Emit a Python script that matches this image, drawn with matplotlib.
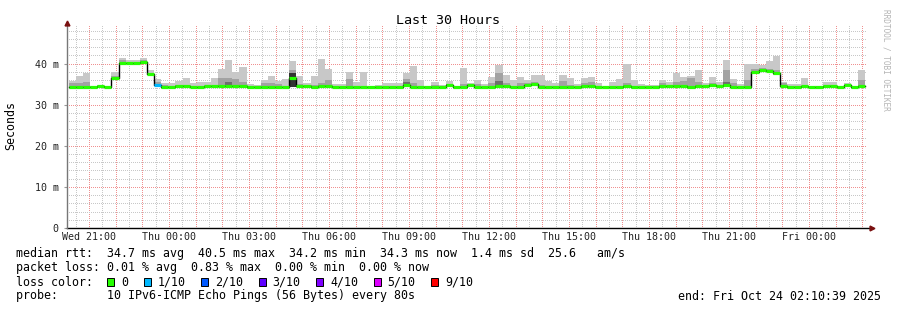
import numpy as np
import matplotlib
matplotlib.use('Agg')
import matplotlib.pyplot as plt
from matplotlib.patches import Rectangle

# --- data (ms), one value per 16 min bin ---
median = [34.24, 34.24, 34.24, 34.24, 34.5, 34.24, 36.6, 40.2, 40.2, 40.2,
          40.5, 37.5, 34.8, 34.24, 34.24, 34.56, 34.56, 34.4, 34.4, 34.48,
          34.48, 34.64, 34.56, 34.48, 34.48, 34.32, 34.32, 34.32, 34.24, 34.24,
          34.24, 36.4, 34.64, 34.64, 34.4, 34.48, 34.56, 34.32, 34.32, 34.4,
          34.4, 34.32, 34.32, 34.32, 34.32, 34.32, 34.32, 34.8, 34.32, 34.24,
          34.24, 34.4, 34.32, 34.8, 34.32, 34.4, 34.8, 34.4, 34.32, 34.32,
          34.64, 34.56, 34.32, 34.4, 34.8, 35.04, 34.32, 34.32, 34.32, 34.32,
          34.32, 34.32, 34.48, 34.48, 34.32, 34.32, 34.32, 34.4, 34.56, 34.32,
          34.32, 34.4, 34.4, 34.48, 34.48, 34.48, 34.48, 34.32, 34.48, 34.48,
          34.72, 34.48, 34.72, 34.32, 34.32, 34.32, 38.0, 38.4, 38.2, 37.6,
          34.56, 34.32, 34.32, 34.48, 34.32, 34.32, 34.48, 34.48, 34.32, 34.8,
          34.4, 34.48]
smoke_max = [35.8, 37.0, 37.8, 34.6, 34.9, 34.4, 38.0, 41.4, 40.8, 40.8,
             41.4, 38.4, 36.2, 35.4, 35.4, 35.8, 36.6, 35.2, 35.6, 35.6,
             36.6, 38.8, 41.0, 38.0, 39.2, 35.1, 34.9, 36.0, 37.0, 35.8,
             36.2, 40.6, 37.0, 35.4, 37.0, 41.2, 38.8, 35.0, 35.0, 38.0,
             35.6, 37.9, 34.6, 34.9, 35.4, 35.4, 35.4, 37.8, 39.4, 36.0,
             34.5, 35.6, 34.9, 35.8, 34.6, 39.0, 35.4, 36.0, 35.0, 36.8,
             39.6, 37.2, 36.0, 36.8, 36.0, 37.2, 37.2, 35.8, 35.4, 37.2,
             36.6, 35.0, 36.4, 36.8, 35.2, 34.4, 35.6, 36.2, 39.8, 36.0,
             35.0, 34.8, 34.8, 36.0, 35.6, 37.8, 36.8, 37.0, 38.4, 35.4,
             36.8, 35.6, 40.8, 36.2, 35.0, 40.0, 40.0, 39.6, 40.6, 41.8,
             35.6, 35.0, 35.0, 36.4, 34.6, 34.6, 35.6, 35.6, 34.6, 35.4,
             34.6, 38.4]
smoke_mid = [35.2, 35.4, 35.6, 0, 0, 0, 37.0, 40.8, 0, 0,
             41.0, 37.8, 35.6, 34.8, 34.6, 34.8, 34.8, 0, 0, 0,
             0, 36.6, 36.6, 36.2, 35.6, 0, 0, 35.4, 35.4, 35.0,
             0, 38.4, 35.0, 0, 34.8, 35.2, 36.0, 0, 0, 36.2,
             0, 0, 0, 0, 0, 0, 0, 36.2, 35.2, 0,
             0, 34.8, 0, 0, 0, 35.0, 35.1, 35.0, 0, 35.2,
             37.8, 35.2, 0, 35.2, 35.2, 35.5, 34.8, 0, 0, 35.8,
             34.8, 0, 35.4, 35.6, 0, 0, 0, 0, 35.4, 0,
             0, 0, 0, 35.2, 0, 35.6, 35.8, 36.4, 35.6, 0,
             35.2, 0, 38.4, 35.2, 0, 36.0, 38.8, 38.9, 38.8, 38.4,
             35.2, 0, 0, 0, 0, 0, 0, 34.8, 0, 34.8,
             0, 36.0]
dense_top = {31: 37.6, 47: 35.6, 53: 35.1, 22: 35.6, 60: 35.8, 92: 35.6}
loss = [0] * 112
loss[12] = 1

loss_labels = ['0', '1/10', '2/10', '3/10', '4/10', '5/10', '9/10']
loss_colors = ['#26ff00', '#00b8ff', '#0059ff', '#5e00ff', '#7e00ff', '#dd00ff', '#ff0000']

tick_names = ['Wed 21:00', 'Thu 00:00', 'Thu 03:00', 'Thu 06:00', 'Thu 09:00',
              'Thu 12:00', 'Thu 15:00', 'Thu 18:00', 'Thu 21:00', 'Fri 00:00']
first_tick = 0.8225   # hours after start (Wed 20:10:39) of Wed 21:00
bin_start = 0.065
bin_w = 16 / 60.0

mono = 'DejaVu Sans Mono'
plt.rcParams['font.family'] = mono

W, H = 897, 310
fig = plt.figure(figsize=(W / 100, H / 100), dpi=100)
fig.patch.set_facecolor('white')
ax = fig.add_axes([67 / W, (H - 228) / H, 800 / W, (228 - 25) / H])
ax.set_xlim(0, 30)
ax.set_ylim(0, 49.4)

# grid: 1px dotted lines
dots = dict(lw=0.72, ls=(0, (1, 2)), zorder=0, antialiased=False)
for h in np.arange(first_tick - 0.5, 30, 1.0):
    if h > 0:
        ax.axvline(h, color='#c8c8c8', **dots)
for h in np.arange(first_tick, 30, 1.0):
    ax.axvline(h, color='#f09090', **dots)
for v in range(2, 50, 2):
    c = '#f09090' if v % 10 == 0 else '#c8c8c8'
    ax.axhline(v, color=c, **dots)

n = len(median)
x = bin_start + np.arange(n) * bin_w
med = np.array(median)
smax = np.array(smoke_max)
smid = np.array(smoke_mid)
bottom = med - 0.25

ax.bar(x, smax - bottom, bottom=bottom, width=bin_w, align='edge',
       color='#c8c8c8', linewidth=0, zorder=1)
has_mid = smid > 0
ax.bar(x[has_mid], smid[has_mid] - bottom[has_mid], bottom=bottom[has_mid],
       width=bin_w, align='edge', color='#a2a2a2', linewidth=0, zorder=2)
for k, top in dense_top.items():
    ax.bar(x[k], top - 34.2, bottom=34.2, width=bin_w, align='edge',
           color='#333333' if k == 31 else '#6e6e6e', linewidth=0, zorder=3)

# median line: black steps, loss coloured segments on top
edges = np.append(x, x[-1] + bin_w)
ax.step(edges, np.append(med, med[-1]), where='post', color='black', lw=1.0, zorder=4)
for k in range(n):
    ax.hlines(med[k], x[k], x[k] + bin_w, color=loss_colors[loss[k]], lw=2.3, zorder=5)

# axes look
for s in ['top', 'right', 'left', 'bottom']:
    ax.spines[s].set_visible(False)
ax.plot([0, 1.003], [0, 0], transform=ax.transAxes, color='black', lw=1, clip_on=False, zorder=6)
ax.plot([1.006], [0], marker='>', ms=3.5, color='#7a1010', transform=ax.transAxes, clip_on=False, zorder=6)
ax.plot([0, 0], [0, 1.0], transform=ax.transAxes, color='#777777', lw=1, clip_on=False, zorder=6)
ax.plot([0], [1.01], marker='^', ms=3.5, color='#7a1010', transform=ax.transAxes, clip_on=False, zorder=6)

ax.set_xticks(first_tick + 3 * np.arange(len(tick_names)))
ax.set_xticklabels(tick_names, fontsize=7.2, color='#222222')
ax.set_yticks([0, 10, 20, 30, 40])
ax.set_yticklabels(['0', '10 m', '20 m', '30 m', '40 m'], fontsize=7.2, color='#222222')
ax.tick_params(axis='x', length=0, pad=3)
ax.tick_params(axis='y', length=2, pad=4, color='#999999')
ax.set_facecolor('white')

fig.text(448 / W, 1 - 20 / H, 'Last 30 Hours', ha='center', va='center', fontsize=9.6)
fig.text(11 / W, 1 - 126 / H, 'Seconds', rotation=90, ha='center', va='center', fontsize=8.4)
fig.text(886 / W, 1 - 60 / H, 'RRDTOOL / TOBI OETIKER', rotation=270, ha='center', va='center',
         fontsize=5.6, color='#b4b4b4')

fs = 8.4
cw = 7.0
rows = ['median rtt:  34.7 ms avg  40.5 ms max  34.2 ms min  34.3 ms now  1.4 ms sd  25.6   am/s',
        'packet loss: 0.01 % avg  0.83 % max  0.00 % min  0.00 % now']
for i, r in enumerate(rows):
    fig.text(16 / W, 1 - (254 + 14 * i) / H, r, ha='left', va='center', fontsize=fs)
fig.text(16 / W, 1 - 282 / H, 'loss color:', ha='left', va='center', fontsize=fs)
px = 16 + 13 * cw
for lab, col in zip(loss_labels, loss_colors):
    fig.add_artist(Rectangle((px / W, 1 - 286 / H), 7 / W, 8 / H, transform=fig.transFigure,
                             facecolor=col, edgecolor='black', lw=0.7))
    fig.text((px + 2 * cw) / W, 1 - 282 / H, lab, ha='left', va='center', fontsize=fs)
    px += (4 + len(lab)) * cw + 1.5
fig.text(16 / W, 1 - 296 / H, 'probe:       10 IPv6-ICMP Echo Pings (56 Bytes) every 80s',
         ha='left', va='center', fontsize=fs)
fig.text(881 / W, 1 - 296 / H, 'end: Fri Oct 24 02:10:39 2025', ha='right', va='center', fontsize=fs)

fig.savefig('out.png', dpi=100, facecolor='white')
